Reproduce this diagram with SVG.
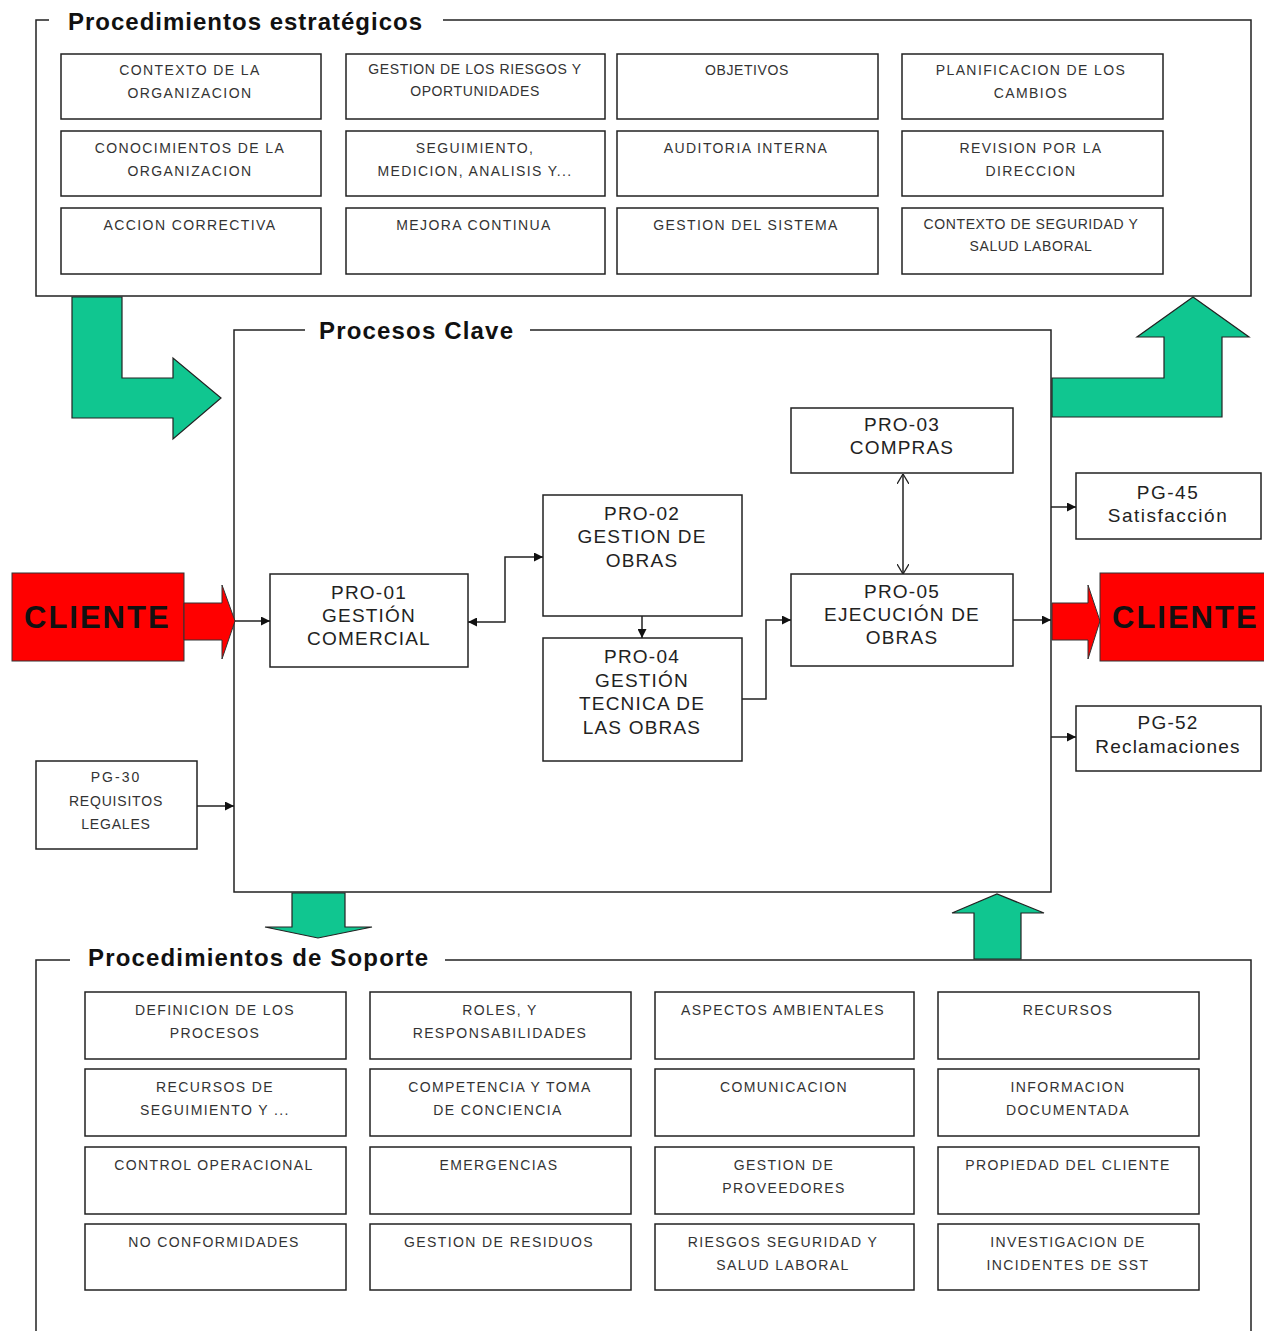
<svg xmlns="http://www.w3.org/2000/svg" width="1264" height="1331" viewBox="0 0 1264 1331">
<style>
.bg{fill:#fff}
.frame{fill:none;stroke:#222;stroke-width:1.5}
.box{fill:#fff;stroke:#222;stroke-width:1.5}
.sm{font-family:"Liberation Sans",Arial,sans-serif;font-size:14px;fill:#333;text-anchor:middle;letter-spacing:1.4px}
.smn{letter-spacing:0.6px}
.pro{font-family:"Liberation Sans",Arial,sans-serif;font-size:19px;fill:#222;text-anchor:middle;letter-spacing:1.2px}
.title{font-family:"Liberation Sans",Arial,sans-serif;font-size:24px;font-weight:bold;fill:#111}
.cli{font-family:"Liberation Sans",Arial,sans-serif;font-size:31px;font-weight:bold;fill:#111;letter-spacing:2px}
.green{fill:#10C690;stroke:#222;stroke-width:1.2}
.red{fill:#F00;stroke:#333;stroke-width:1}
.conn{fill:none;stroke:#222;stroke-width:1.5}
</style>
<defs>
<marker id="ah" viewBox="0 0 10 10" refX="10" refY="5" markerWidth="11" markerHeight="9" orient="auto-start-reverse" markerUnits="userSpaceOnUse"><path d="M0,0 L10,5 L0,10 z" fill="#111"/></marker>
<marker id="av" viewBox="0 0 10 12" refX="10" refY="6" markerWidth="10" markerHeight="12" orient="auto-start-reverse" markerUnits="userSpaceOnUse"><path d="M0,0 L10,6 L0,12" fill="none" stroke="#222" stroke-width="1.3"/></marker>
</defs>
<rect class="bg" x="0" y="0" width="1264" height="1331"/>

<!-- Frames -->
<g id="frame-estrategicos">
<path class="frame" d="M49,20 H36 V296 H1251 V20 H443"/>
<text class="title" x="68" y="30" textLength="354" lengthAdjust="spacing">Procedimientos estratégicos</text>
</g>
<g id="frame-clave">
<path class="frame" d="M305,330 H234 V892 H1051 V330 H530"/>
<text class="title" x="319" y="339" textLength="194" lengthAdjust="spacing">Procesos Clave</text>
</g>
<g id="frame-soporte">
<path class="frame" d="M70,960 H36 V1331 M1251,1331 V960 H445"/>
<text class="title" x="88" y="966" textLength="340" lengthAdjust="spacing">Procedimientos de Soporte</text>
</g>

<!-- Strategic boxes -->
<g id="s-contexto"><rect class="box" x="61" y="54" width="260" height="65"/><text class="sm" x="190" y="75">CONTEXTO DE LA</text><text class="sm" x="190" y="98">ORGANIZACION</text></g>
<g id="s-riesgos"><rect class="box" x="346" y="54" width="259" height="65"/><text class="sm smn" x="475" y="74">GESTION DE LOS RIESGOS Y</text><text class="sm smn" x="475" y="96">OPORTUNIDADES</text></g>
<g id="s-objetivos"><rect class="box" x="617" y="54" width="261" height="65"/><text class="sm smn" x="747" y="75">OBJETIVOS</text></g>
<g id="s-planificacion"><rect class="box" x="902" y="54" width="261" height="65"/><text class="sm" x="1031" y="75">PLANIFICACION DE LOS</text><text class="sm" x="1031" y="98">CAMBIOS</text></g>

<g id="s-conocimientos"><rect class="box" x="61" y="131" width="260" height="65"/><text class="sm" x="190" y="153">CONOCIMIENTOS DE LA</text><text class="sm" x="190" y="176">ORGANIZACION</text></g>
<g id="s-seguimiento"><rect class="box" x="346" y="131" width="259" height="65"/><text class="sm" x="475" y="153">SEGUIMIENTO,</text><text class="sm" x="475" y="176">MEDICION, ANALISIS Y...</text></g>
<g id="s-auditoria"><rect class="box" x="617" y="131" width="261" height="65"/><text class="sm" x="746" y="153">AUDITORIA INTERNA</text></g>
<g id="s-revision"><rect class="box" x="902" y="131" width="261" height="65"/><text class="sm" x="1031" y="153">REVISION POR LA</text><text class="sm" x="1031" y="176">DIRECCION</text></g>

<g id="s-accion"><rect class="box" x="61" y="208" width="260" height="66"/><text class="sm" x="190" y="230">ACCION CORRECTIVA</text></g>
<g id="s-mejora"><rect class="box" x="346" y="208" width="259" height="66"/><text class="sm" x="474" y="230">MEJORA CONTINUA</text></g>
<g id="s-gestion-sistema"><rect class="box" x="617" y="208" width="261" height="66"/><text class="sm" x="746" y="230">GESTION DEL SISTEMA</text></g>
<g id="s-contexto-sst"><rect class="box" x="902" y="208" width="261" height="66"/><text class="sm smn" x="1031" y="229">CONTEXTO DE SEGURIDAD Y</text><text class="sm smn" x="1031" y="251">SALUD LABORAL</text></g>

<!-- Green arrows -->
<g id="arrow-estr-in"><polygon class="green" points="72,297 122,297 122,378 173,378 173,358 221,398 173,439 173,418 72,418"/></g>
<g id="arrow-estr-out"><polygon class="green" points="1052,378 1164,378 1164,337 1137,337 1193,297 1249,337 1222,337 1222,417 1052,417"/></g>
<g id="arrow-sop-down"><polygon class="green" points="292,893 345,893 345,927 372,927 318,938 265,927 292,927"/></g>
<g id="arrow-sop-up"><polygon class="green" points="974,959 1021,959 1021,913 1044,913 997,894 952,913 974,913"/></g>

<!-- Cliente -->
<g id="cliente-in">
<rect class="red" x="12" y="573" width="172" height="88"/>
<polygon class="red" points="184,603 222,603 222,585 235,621 222,659 222,640 184,640"/>
<text class="cli" x="24" y="628">CLIENTE</text>
</g>
<g id="cliente-out">
<polygon class="red" points="1052,603 1088,603 1088,585 1100,621 1088,659 1088,640 1052,640"/>
<rect class="red" x="1100" y="573" width="170" height="88"/>
<text class="cli" x="1112" y="628">CLIENTE</text>
</g>

<!-- Key processes -->
<g id="pro01"><rect class="box" x="270" y="574" width="198" height="93"/><text class="pro" x="369" y="599">PRO-01</text><text class="pro" x="369" y="622">GESTIÓN</text><text class="pro" x="369" y="645">COMERCIAL</text></g>
<g id="pro02"><rect class="box" x="543" y="495" width="199" height="121"/><text class="pro" x="642" y="520">PRO-02</text><text class="pro" x="642" y="543">GESTION DE</text><text class="pro" x="642" y="567">OBRAS</text></g>
<g id="pro04"><rect class="box" x="543" y="638" width="199" height="123"/><text class="pro" x="642" y="663">PRO-04</text><text class="pro" x="642" y="687">GESTIÓN</text><text class="pro" x="642" y="710">TECNICA DE</text><text class="pro" x="642" y="734">LAS OBRAS</text></g>
<g id="pro03"><rect class="box" x="791" y="408" width="222" height="65"/><text class="pro" x="902" y="431">PRO-03</text><text class="pro" x="902" y="454">COMPRAS</text></g>
<g id="pro05"><rect class="box" x="791" y="574" width="222" height="92"/><text class="pro" x="902" y="598">PRO-05</text><text class="pro" x="902" y="621">EJECUCIÓN DE</text><text class="pro" x="902" y="644">OBRAS</text></g>

<g id="pg45"><rect class="box" x="1076" y="473" width="185" height="66"/><text class="pro" x="1168" y="499" style="letter-spacing:1.5px">PG-45</text><text class="pro" x="1168" y="522" style="letter-spacing:1.5px">Satisfacción</text></g>
<g id="pg52"><rect class="box" x="1076" y="706" width="185" height="65"/><text class="pro" x="1168" y="729" style="letter-spacing:1.2px">PG-52</text><text class="pro" x="1168" y="753" style="letter-spacing:1.2px">Reclamaciones</text></g>
<g id="pg30"><rect class="box" x="36" y="761" width="161" height="88"/><text class="sm" x="116" y="782" style="letter-spacing:2px">PG-30</text><text class="sm" x="116" y="806" style="letter-spacing:0.8px">REQUISITOS</text><text class="sm" x="116" y="829" style="letter-spacing:0.8px">LEGALES</text></g>

<!-- Connectors -->
<g id="connectors">
<path class="conn" d="M235,621 H270" marker-end="url(#ah)"/>
<path class="conn" d="M468,622 H505 V557 H543" marker-start="url(#ah)" marker-end="url(#ah)"/>
<path class="conn" d="M642,616 V638" marker-end="url(#ah)"/>
<path class="conn" d="M742,699 H766 V620 H791" marker-end="url(#ah)"/>
<path class="conn" d="M903,474 V574" marker-start="url(#av)" marker-end="url(#av)"/>
<path class="conn" d="M1013,620 H1051" marker-end="url(#ah)"/>
<path class="conn" d="M1051,507 H1076" marker-end="url(#ah)"/>
<path class="conn" d="M1051,737 H1076" marker-end="url(#ah)"/>
<path class="conn" d="M197,806 H234" marker-end="url(#ah)"/>
</g>

<!-- Support boxes -->
<g id="p-definicion"><rect class="box" x="85" y="992" width="261" height="67"/><text class="sm" x="215" y="1015">DEFINICION  DE LOS</text><text class="sm" x="215" y="1038">PROCESOS</text></g>
<g id="p-roles"><rect class="box" x="370" y="992" width="261" height="67"/><text class="sm" x="500" y="1015">ROLES, Y</text><text class="sm" x="500" y="1038">RESPONSABILIDADES</text></g>
<g id="p-aspectos"><rect class="box" x="655" y="992" width="259" height="67"/><text class="sm" x="783" y="1015">ASPECTOS AMBIENTALES</text></g>
<g id="p-recursos"><rect class="box" x="938" y="992" width="261" height="67"/><text class="sm" x="1068" y="1015">RECURSOS</text></g>

<g id="p-recursos-seg"><rect class="box" x="85" y="1069" width="261" height="67"/><text class="sm" x="215" y="1092">RECURSOS DE</text><text class="sm" x="215" y="1115">SEGUIMIENTO  Y ...</text></g>
<g id="p-competencia"><rect class="box" x="370" y="1069" width="261" height="67"/><text class="sm" x="500" y="1092">COMPETENCIA Y TOMA</text><text class="sm" x="498" y="1115">DE CONCIENCIA</text></g>
<g id="p-comunicacion"><rect class="box" x="655" y="1069" width="259" height="67"/><text class="sm" x="784" y="1092">COMUNICACION</text></g>
<g id="p-informacion"><rect class="box" x="938" y="1069" width="261" height="67"/><text class="sm" x="1068" y="1092">INFORMACION</text><text class="sm" x="1068" y="1115">DOCUMENTADA</text></g>

<g id="p-control"><rect class="box" x="85" y="1147" width="261" height="67"/><text class="sm" x="214" y="1170">CONTROL OPERACIONAL</text></g>
<g id="p-emergencias"><rect class="box" x="370" y="1147" width="261" height="67"/><text class="sm" x="499" y="1170">EMERGENCIAS</text></g>
<g id="p-proveedores"><rect class="box" x="655" y="1147" width="259" height="67"/><text class="sm" x="784" y="1170">GESTION DE</text><text class="sm" x="784" y="1193">PROVEEDORES</text></g>
<g id="p-propiedad"><rect class="box" x="938" y="1147" width="261" height="67"/><text class="sm" x="1068" y="1170">PROPIEDAD DEL CLIENTE</text></g>

<g id="p-noconf"><rect class="box" x="85" y="1224" width="261" height="66"/><text class="sm" x="214" y="1247">NO CONFORMIDADES</text></g>
<g id="p-residuos"><rect class="box" x="370" y="1224" width="261" height="66"/><text class="sm" x="499" y="1247">GESTION DE RESIDUOS</text></g>
<g id="p-riesgos-sst"><rect class="box" x="655" y="1224" width="259" height="66"/><text class="sm" x="783" y="1247">RIESGOS SEGURIDAD Y</text><text class="sm" x="783" y="1270">SALUD LABORAL</text></g>
<g id="p-investigacion"><rect class="box" x="938" y="1224" width="261" height="66"/><text class="sm" x="1068" y="1247">INVESTIGACION  DE</text><text class="sm" x="1068" y="1270">INCIDENTES  DE SST</text></g>
</svg>
